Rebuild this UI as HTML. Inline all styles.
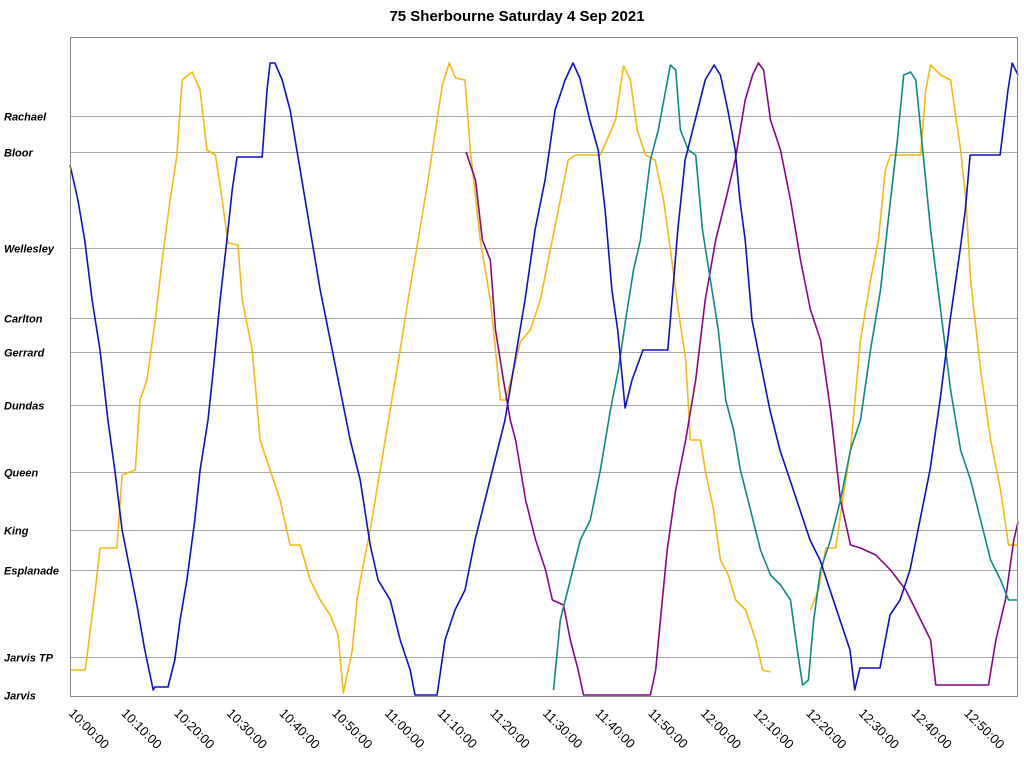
<!DOCTYPE html>
<html>
<head>
<meta charset="utf-8">
<style>
  html, body { margin: 0; padding: 0; background: #fff; }
  body { width: 1024px; height: 758px; overflow: hidden; font-family: "Liberation Sans", Arial, sans-serif; }
  svg { display: block; }
</style>
</head>
<body>
<svg id="chart" width="1024" height="758" viewBox="0 0 1024 758" xmlns="http://www.w3.org/2000/svg">
  <text x="517" y="21" text-anchor="middle" font-size="15" font-weight="bold" fill="#000">75 Sherbourne Saturday 4 Sep 2021</text>
  <g id="grid"></g>
  <g id="ylabels"></g>
  <g id="xlabels"></g>
  <g id="series"></g>
  <rect x="70.5" y="37.5" width="947" height="659" fill="none" stroke="#888" stroke-width="1"/>
</svg>
<script>
// Stops: distance index along route (Jarvis = 0)
const stopNames = ["Rachael","Bloor","Wellesley","Carlton","Gerrard","Dundas","Queen","King","Esplanade","Jarvis TP","Jarvis"];
const stopValues = [579,543,447,377,343,290,223,165,125,38,0];
// Time ticks (minutes after 10:00)
const tickMinutes = [0,10,20,30,40,50,60,70,80,90,100,110,120,130,140,150,160,170];
const tickLabels = ["10:00:00","10:10:00","10:20:00","10:30:00","10:40:00","10:50:00","11:00:00","11:10:00","11:20:00","11:30:00","11:40:00","11:50:00","12:00:00","12:10:00","12:20:00","12:30:00","12:40:00","12:50:00"];

const blueTimes = [0,1.5,2.8,4.2,5.7,7.2,8.5,9.9,11.4,12.7,14.2,15.8,16.1,18.6,19.9,20.9,22.2,23.7,24.7,26.2,27.2,28.5,29.8,30.8,31.7,36.5,37.4,38.0,38.9,40.3,41.8,43.7,45.6,47.5,49.4,51.3,53.2,55.1,57.0,58.5,60.8,62.7,64.6,65.5,69.7,71.2,73.1,75.0,76.9,78.8,80.7,82.6,84.5,86.4,88.3,90.2,92.1,94.0,95.5,96.8,98.7,100.3,101.6,102.9,104.0,105.4,106.7,108.8,113.5,114.3,115.4,116.8,118.7,120.6,122.3,123.5,124.9,126.3,127.2,128.2,129.5,131.0,132.9,134.8,136.7,138.6,140.5,142.4,144.3,146.2,148.1,149.0,150.0,153.8,155.7,157.6,159.5,161.4,163.3,165.2,167.1,169.0,170.0,170.9,176.6,178.1,178.9,180];
const blueValues = [530,495,455,395,345,275,225,165,125,90,45,5,8,8,35,75,115,175,225,275,325,395,455,505,538,538,605,632,632,615,585,525,465,405,355,305,255,215,150,115,95,55,25,0,0,55,85,105,155,195,235,275,335,395,465,515,585,615,632,617,575,545,485,405,365,287,315,345,345,395,465,535,575,615,630,620,585,545,495,455,375,335,285,245,215,185,155,135,105,75,45,5,27,27,80,95,125,175,225,295,375,445,485,540,540,605,632,620];

const yellowTimes = [0,2.9,4.8,5.7,8.9,9.9,12.4,13.3,14.6,16.2,17.5,19.0,20.3,21.3,23.2,24.7,26.0,27.6,28.9,30.0,31.9,32.7,34.6,36.1,38.0,39.9,41.8,43.7,45.6,47.5,49.4,50.9,51.9,53.6,54.5,55.5,57.0,58.9,60.8,62.7,64.2,66.1,68.0,69.4,70.7,72.0,73.2,75.0,76.0,77.9,79.8,80.8,81.7,82.7,84.2,85.5,87.4,89.3,91.2,93.1,94.6,96.0,100.7,103.6,105.1,106.4,107.7,109.3,111.1,112.7,114.0,115.5,116.9,117.8,119.7,120.6,122.2,123.5,125.0,126.4,128.3,130.2,131.5,133.0];
const yellowValues = [25,25,105,147,147,220,225,295,315,375,435,495,540,615,623,605,545,540,495,452,450,395,345,255,225,195,150,150,115,95,80,60,2,45,95,125,165,225,285,345,395,455,515,565,610,632,617,615,545,455,395,345,295,295,325,353,365,395,445,495,535,540,540,575,629,615,565,540,535,495,445,385,335,255,255,225,185,135,120,95,85,55,25,23];

const yellow2Times = [140.6,142.1,143.5,145.4,146.7,148.2,150.1,152.0,153.5,154.8,155.8,161.5,162.5,163.4,165.3,167.2,169.1,170.1,171.0,172.9,174.8,176.7,178.2,180];
const yellow2Values = [85,105,147,147,195,245,355,415,455,525,540,540,605,630,620,615,545,495,415,325,255,205,150,150];

const purpleTimes = [75.2,77.0,78.3,79.8,80.8,82.3,83.6,84.6,86.5,88.4,90.3,91.6,93.7,95.0,96.5,97.5,110.2,111.2,112.1,113.4,115.0,116.9,118.8,120.6,122.6,124.5,126.3,128.2,129.6,130.7,131.7,133.0,134.9,136.8,138.7,140.6,142.5,144.4,146.3,148.2,150.1,153.0,155.8,158.7,160.6,163.4,164.4,174.4,175.8,177.6,179.2,180];
const purpleValues = [543,515,455,435,365,315,275,255,195,155,125,95,90,55,25,0,0,25,75,145,205,255,315,395,455,495,535,595,620,632,625,575,545,495,435,385,355,285,195,150,147,140,125,105,85,55,10,10,55,95,155,173];

const tealTimes = [91.8,93.1,95.0,96.9,98.8,100.7,102.6,104.1,105.5,107.0,108.3,110.2,111.7,113.1,114.0,115.0,115.9,117.4,118.8,120.1,121.6,123.1,124.5,126.0,127.3,129.2,131.1,133.0,134.9,136.8,138.1,139.1,140.2,141.2,142.5,144.4,146.3,148.2,150.1,152.0,153.9,155.8,157.1,158.3,159.6,160.6,161.9,163.4,165.3,167.2,169.1,171.0,172.9,174.8,176.7,178.2,180];
const tealValues = [5,75,115,155,175,225,285,325,375,425,455,535,565,605,630,625,565,545,540,465,415,365,295,265,225,185,145,120,110,95,45,10,15,75,125,155,195,245,275,345,405,495,555,620,623,615,545,465,385,305,245,215,175,135,115,95,95];

const NS = "http://www.w3.org/2000/svg";
const PX0 = 70, PX1 = 1018, PY0 = 37, PY1 = 695;
function xScale(m) { return PX0 + m * (PX1 - PX0) / 180; }
function yScale(v) { return PY1 - v * (PY1 - PY0) / 658; }

const grid = document.getElementById('grid');
const ylabels = document.getElementById('ylabels');
stopNames.forEach((name, i) => {
  const y = Math.round(yScale(stopValues[i])) + 0.5;
  if (stopValues[i] > 0) {
    const ln = document.createElementNS(NS, 'line');
    
    
    ln.setAttribute('x1', PX0); ln.setAttribute('x2', PX1);
    ln.setAttribute('y1', y); ln.setAttribute('y2', y);
    ln.setAttribute('stroke', '#aaa');
    ln.setAttribute('stroke-width', '1');
    grid.appendChild(ln);
  }
  const t = document.createElementNS(NS, 'text');
  
  
  t.setAttribute('x', 4);
  t.setAttribute('y', y + 4);
  t.setAttribute('font-size', '11');
  t.setAttribute('font-weight', 'bold');
  t.setAttribute('font-style', 'italic');
  t.textContent = name;
  ylabels.appendChild(t);
});

const xlabels = document.getElementById('xlabels');
tickMinutes.forEach((m, i) => {
  const x = xScale(m);
  const t = document.createElementNS(NS, 'text');
  
  
  t.setAttribute('x', x - 2);
  t.setAttribute('y', 714);
  t.setAttribute('font-size', '13');
  t.setAttribute('transform', 'rotate(45 ' + (x - 2) + ' 714)');
  t.textContent = tickLabels[i];
  xlabels.appendChild(t);
});

const seriesG = document.getElementById('series');
function drawSeries(times, values, color, name) {
  const n = Math.min(times.length, values.length);
  let d = '';
  for (let i = 0; i < n; i++) {
    d += (i ? 'L' : 'M') + xScale(times[i]).toFixed(1) + ' ' + yScale(values[i]).toFixed(1);
  }
  const p = document.createElementNS(NS, 'path');
  
  
  p.setAttribute('d', d);
  p.setAttribute('fill', 'none');
  p.setAttribute('stroke', color);
  p.setAttribute('stroke-width', '1.6');
  p.setAttribute('stroke-linejoin', 'round');
  seriesG.appendChild(p);
}
drawSeries(yellowTimes, yellowValues, '#f2bc12', 'yellow-bus-line');
drawSeries(yellow2Times, yellow2Values, '#f2bc12', 'yellow-bus-line-2');
drawSeries(purpleTimes, purpleValues, '#860a86', 'purple-bus-line');
drawSeries(tealTimes, tealValues, '#118a82', 'teal-bus-line');
drawSeries(blueTimes, blueValues, '#1010d0', 'blue-bus-line');
</script>
</body>
</html>
